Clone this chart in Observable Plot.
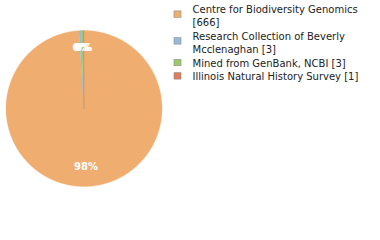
<!DOCTYPE html>
<html>
<head>
<meta charset="utf-8">
<script src="https://cdn.jsdelivr.net/npm/d3@7"></script>
<script src="https://cdn.jsdelivr.net/npm/@observablehq/plot@0.6"></script>
<style>
  html, body { margin: 0; padding: 0; background: #fff; }
  svg { display: block; }
</style>
</head>
<body>
<div id="chart"></div>
<script>
// ---- data ----
const categories = [
  "Centre for Biodiversity Genomics",
  "Research Collection of Beverly Mcclenaghan",
  "Mined from GenBank, NCBI",
  "Illinois Natural History Survey"
];
const counts = [666, 3, 3, 1];
const colors = ["#f0ad70", "#97bad9", "#9cc96e", "#df7b5c"];
// legend text lines for each category (wrapped as in the picture)
const legendLines = [
  ["Centre for Biodiversity Genomics", "[666]"],
  ["Research Collection of Beverly", "Mcclenaghan [3]"],
  ["Mined from GenBank, NCBI [3]"],
  ["Illinois Natural History Survey [1]"]
];

// ---- layout ----
const W = 380, H = 240;
const cx = 83.5, cy = 108, R = 78;
const labelR = 59.25, labelDy = -1.25;
const total = d3.sum(counts);

const arcs = d3.pie().sort(null).value(d => d)(counts);

// polygon points for each slice
const slicePts = [];
arcs.forEach((a, i) => {
  slicePts.push({k: i, x: cx, y: cy, c: colors[i]});
  const n = Math.max(2, Math.ceil((a.endAngle - a.startAngle) / (Math.PI / 360)));
  for (let j = 0; j <= n; j++) {
    const t = a.startAngle + (a.endAngle - a.startAngle) * j / n;
    slicePts.push({k: i, x: cx + R * Math.sin(t), y: cy - R * Math.cos(t), c: colors[i]});
  }
  slicePts.push({k: i, x: cx, y: cy, c: colors[i]});
});

const pctLabels = arcs.map((a, i) => {
  const m = (a.startAngle + a.endAngle) / 2;
  return {
    x: cx + labelR * Math.sin(m),
    y: cy - labelR * Math.cos(m) + labelDy,
    t: Math.floor(counts[i] / total * 100) + "%"
  };
});
// draw small ones first so the big label is on top as usual
pctLabels.reverse();

// legend
const lgX = 192, sqX1 = 174, sqX2 = 181, lineH = 13.4, firstBase = 12.5;
const legendText = [];
const legendSq = [];
let li = 0;
legendLines.forEach((lines, i) => {
  const base0 = firstBase + lineH * li;
  const sc = base0 - 3.6 + (lines.length - 1) * 5.2;
  legendSq.push({x1: sqX1, x2: sqX2, y1: sc - 3.2, y2: sc + 3.2, c: colors[i], name: categories[i]});
  lines.forEach(t => {
    legendText.push({x: lgX, y: firstBase + lineH * li, t});
    li++;
  });
});

const chart = Plot.plot({
  width: W, height: H,
  margin: 0,
  x: {domain: [0, W], range: [0, W], axis: null},
  y: {domain: [0, H], range: [0, H], axis: null},
  color: {type: "identity"},
  style: {fontFamily: "'DejaVu Sans', sans-serif", background: "#fff"},
  marks: [
    Plot.line(slicePts, {x: "x", y: "y", z: "k", fill: "c", stroke: "c", strokeWidth: 0.3, curve: "linear"}),
    Plot.text(pctLabels, {x: "x", y: "y", text: "t", fill: "white", fontSize: 10, fontWeight: "bold", textAnchor: "middle", lineAnchor: "middle"}),
    Plot.rect(legendSq, {x1: "x1", x2: "x2", y1: "y1", y2: "y2", fill: "c", stroke: "#8a8a8a", strokeWidth: 0.6, insetLeft: 0, insetRight: 0}),
    Plot.text(legendText, {x: "x", y: "y", text: "t", fill: "#222", fontSize: 10, textAnchor: "start", lineAnchor: "bottom"})
  ]
});
document.getElementById("chart").appendChild(chart);
</script>
</body>
</html>
